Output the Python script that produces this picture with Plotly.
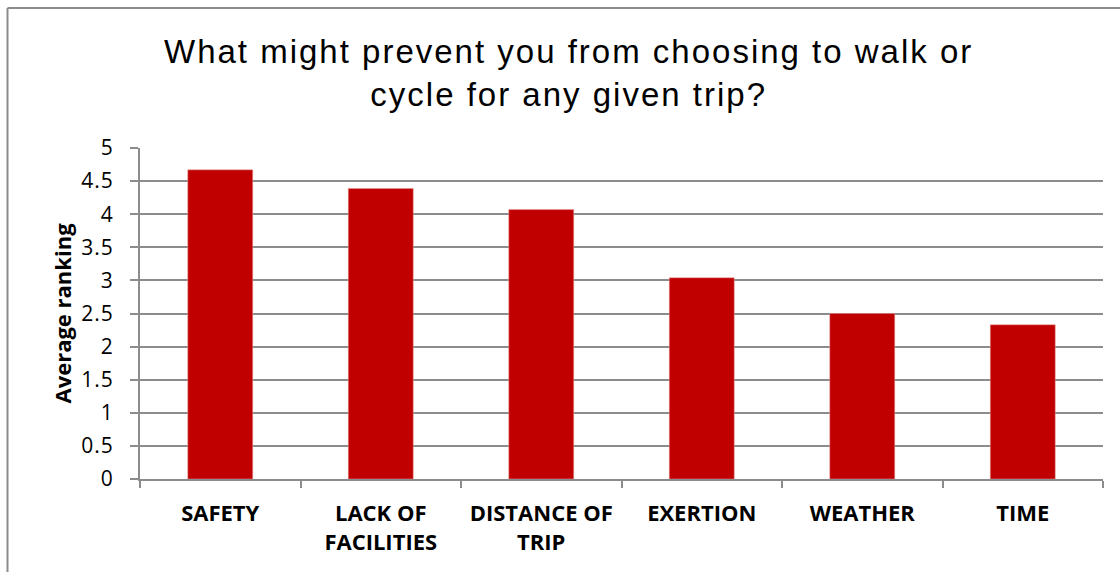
import plotly.graph_objects as go

categories = ["SAFETY", "LACK OF<br>FACILITIES", "DISTANCE OF<br>TRIP", "EXERTION", "WEATHER", "TIME"]
values = [4.67, 4.39, 4.07, 3.04, 2.50, 2.33]
y_ticks = [0, 0.5, 1, 1.5, 2, 2.5, 3, 3.5, 4, 4.5, 5]
y_tick_text = ["0", "0.5", "1", "1.5", "2", "2.5", "3", "3.5", "4", "4.5", "5"]
title_lines = ["What might prevent you from choosing to walk or", "cycle for any given trip?"]

W, H = 1120, 572
L, R, T, B = 140, 17, 148, 93
pw, ph = W - L - R, H - T - B

def px(x):
    return (x - L) / pw

def py(y):
    return (H - B - y) / ph

grid = "#8c8c8c"

def spaced(s, sp):
    return '<span style="letter-spacing:%spx">%s</span>' % (sp, s)

fig = go.Figure(go.Bar(
    x=categories, y=values,
    marker=dict(color="#C00000", line=dict(color="#e8a0a0", width=0.5)),
    width=0.405,
))

fig.update_layout(
    width=W, height=H,
    margin=dict(l=L, r=R, t=T, b=B),
    plot_bgcolor="white", paper_bgcolor="white",
    showlegend=False,
    font=dict(family="Open Sans, Lato, sans-serif", color="black"),
    xaxis=dict(
        showgrid=False, showline=True, linecolor=grid, linewidth=2,
        ticks="outside", ticklen=7, tickcolor=grid, tickwidth=2,
        tickson="boundaries", ticklabelstandoff=14,
        tickfont=dict(size=22, family="Open Sans", color="black", weight="bold"),
        range=[-0.5, 5.5],
    ),
    yaxis=dict(
        range=[0, 5], tickvals=y_ticks, ticktext=[spaced(t, 1) for t in y_tick_text],
        showgrid=True, gridcolor=grid, gridwidth=2,
        showline=True, linecolor=grid, linewidth=2,
        ticks="outside", ticklen=8, tickcolor=grid, tickwidth=2,
        ticklabelstandoff=12,
        tickfont=dict(size=21, family="Open Sans", color="black"),
        title=dict(text="<b>Average ranking</b>", font=dict(size=22, family="Open Sans", color="black"), standoff=4),
        zeroline=False,
    ),
)

fig.add_annotation(
    text="<br>".join(spaced(s, 2) for s in title_lines),
    xref="paper", yref="paper", x=px(568.5), y=py(31),
    xanchor="center", yanchor="top", showarrow=False,
    font=dict(family="Liberation Sans, Arial", size=33, color="black"),
)

# outer chart border (extends past right/bottom edges of the picture)
fig.add_shape(type="line", xref="paper", yref="paper",
              x0=px(7.5), x1=px(1125), y0=py(8), y1=py(8),
              line=dict(color=grid, width=2))
fig.add_shape(type="line", xref="paper", yref="paper",
              x0=px(7.5), x1=px(7.5), y0=py(8), y1=py(580),
              line=dict(color=grid, width=2))

fig.write_html("out.html", config={"displayModeBar": False},
               post_script="document.body.style.margin='0';document.body.style.overflow='hidden';")
